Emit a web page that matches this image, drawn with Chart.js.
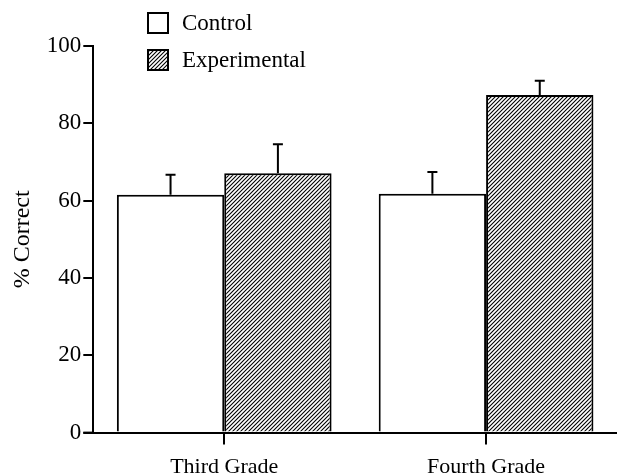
<!DOCTYPE html>
<html lang="en">
<head>
    <meta charset="UTF-8">
    <title>% Correct by Grade</title>
    <script src="https://cdn.jsdelivr.net/npm/chart.js"></script>
    <style>
        body { margin: 0; background: #fff; }
    </style>
</head>
<body>
    <canvas id="gradeChart" width="617" height="475"></canvas>

    <script>
        const categories = ['Third Grade', 'Fourth Grade'];
        const controlMeans = [61.5, 61.8];
        const controlErr = [5.2, 5.6];
        const experimentalMeans = [67.1, 87.3];
        const experimentalErr = [7.5, 3.7];
        const yTicks = [0, 20, 40, 60, 80, 100];

        const serif = '"Liberation Serif", "Times New Roman", serif';

        // diagonal hatch fill for the experimental bars
        function makeHatch() {
            const s = 4;
            const c = document.createElement('canvas');
            c.width = s; c.height = s;
            const g = c.getContext('2d');
            g.fillStyle = '#fff';
            g.fillRect(0, 0, s, s);
            g.strokeStyle = '#000';
            g.lineWidth = 1.1;
            g.beginPath();
            g.moveTo(-1, s + 1); g.lineTo(s + 1, -1);
            g.moveTo(-1, 1); g.lineTo(1, -1);
            g.moveTo(s - 1, s + 1); g.lineTo(s + 1, s - 1);
            g.stroke();
            return g.createPattern(c, 'repeat');
        }

        const ctx = document.getElementById('gradeChart').getContext('2d');
        const hatch = makeHatch();

        const errors = [controlErr, experimentalErr];

        const errorBars = {
            id: 'errorBars',
            afterDatasetsDraw(chart) {
                const c = chart.ctx;
                const y = chart.scales.y;
                c.save();
                c.strokeStyle = '#000';
                c.lineWidth = 2;
                chart.data.datasets.forEach((ds, i) => {
                    chart.getDatasetMeta(i).data.forEach((bar, j) => {
                        const top = y.getPixelForValue(ds.data[j] + errors[i][j]);
                        c.beginPath();
                        c.moveTo(bar.x, bar.y);
                        c.lineTo(bar.x, top);
                        c.moveTo(bar.x - 5, top);
                        c.lineTo(bar.x + 5, top);
                        c.stroke();
                    });
                });
                c.restore();
            }
        };

        // x axis line runs a bit past the y axis, like the original
        const axisStub = {
            id: 'axisStub',
            afterDraw(chart) {
                const c = chart.ctx;
                const a = chart.chartArea;
                c.save();
                c.strokeStyle = '#000';
                c.lineWidth = 2;
                c.beginPath();
                c.moveTo(a.left - 10, a.bottom);
                c.lineTo(a.left, a.bottom);
                c.stroke();
                c.restore();
            }
        };

        const boxLegend = {
            id: 'boxLegend',
            afterDraw(chart) {
                const c = chart.ctx;
                c.save();
                c.font = '23px ' + serif;
                c.fillStyle = '#000';
                c.textBaseline = 'middle';
                chart.data.datasets.forEach((ds, i) => {
                    const y0 = 13 + i * 37;
                    c.fillStyle = ds.backgroundColor;
                    c.fillRect(148, y0, 20, 20);
                    c.strokeStyle = '#000';
                    c.lineWidth = 2;
                    c.strokeRect(148, y0, 20, 20);
                    c.fillStyle = '#000';
                    c.fillText(ds.label, 182, y0 + 11);
                });
                c.restore();
            }
        };

        new Chart(ctx, {
            type: 'bar',
            data: {
                labels: categories,
                datasets: [
                    {
                        label: 'Control',
                        data: controlMeans,
                        backgroundColor: '#fff',
                        borderColor: '#000',
                        borderWidth: 2,
                        borderSkipped: 'bottom'
                    },
                    {
                        label: 'Experimental',
                        data: experimentalMeans,
                        backgroundColor: hatch,
                        borderColor: '#000',
                        borderWidth: 2,
                        borderSkipped: 'bottom'
                    }
                ]
            },
            options: {
                responsive: false,
                animation: false,
                layout: { padding: { top: 46, right: 0, left: 8, bottom: -14 } },
                datasets: {
                    bar: { categoryPercentage: 0.82, barPercentage: 1.0 }
                },
                plugins: {
                    legend: { display: false },
                    tooltip: { enabled: false }
                },
                scales: {
                    x: {
                        grid: {
                            offset: false,
                            drawOnChartArea: false,
                            tickLength: 12,
                            color: '#000',
                            lineWidth: 2
                        },
                        border: { color: '#000', width: 2 },
                        ticks: {
                            color: '#000',
                            padding: 9,
                            font: { family: serif, size: 22 }
                        }
                    },
                    y: {
                        min: 0,
                        max: 100,
                        afterBuildTicks: axis => {
                            axis.ticks = yTicks.map(v => ({ value: v }));
                        },
                        grid: {
                            drawOnChartArea: false,
                            tickLength: 10,
                            color: '#000',
                            lineWidth: 2
                        },
                        border: { color: '#000', width: 2 },
                        ticks: {
                            color: '#000',
                            padding: 2,
                            font: { family: serif, size: 23 }
                        },
                        title: {
                            display: true,
                            text: '% Correct',
                            color: '#000',
                            padding: { top: 0, bottom: 8 },
                            font: { family: serif, size: 24 }
                        }
                    }
                }
            },
            plugins: [errorBars, axisStub, boxLegend]
        });
    </script>
</body>
</html>
